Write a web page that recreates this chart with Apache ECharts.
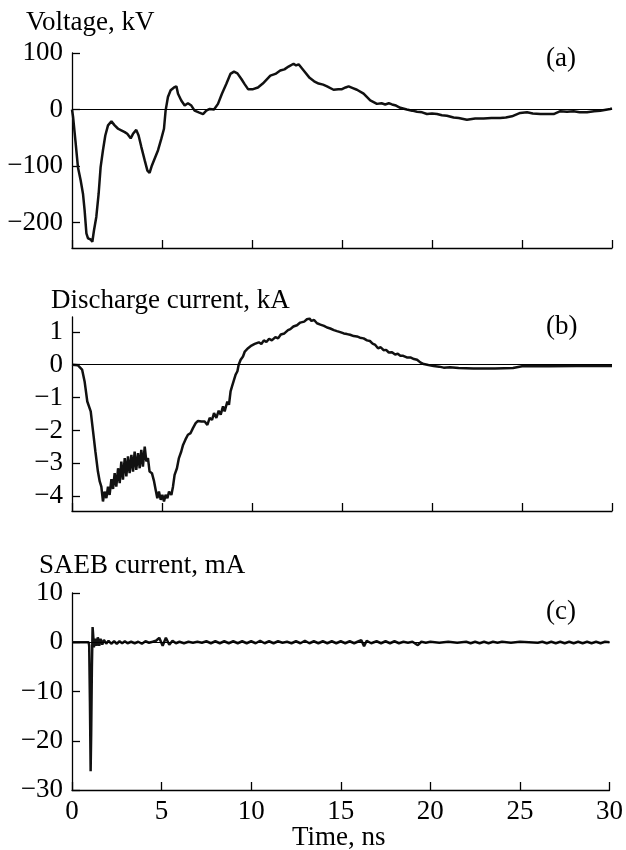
<!DOCTYPE html>
<html>
<head>
<meta charset="utf-8">
<script src="https://cdn.jsdelivr.net/npm/echarts@6/dist/echarts.min.js"></script>
<style>
  html, body { margin: 0; padding: 0; background: #fff; }
  #chart { width: 626px; height: 850px; }
</style>
</head>
<body>
<div id="chart"></div>
<script>
// (a) voltage, kV vs time, ns
var voltagePoints = [
  [0, 0], [0.06, -13], [0.19, -55], [0.33, -102], [0.48, -125], [0.61, -149], [0.70, -178],
  [0.80, -219], [0.89, -228], [1.04, -230], [1.13, -234], [1.22, -214], [1.35, -190],
  [1.48, -149], [1.59, -102], [1.72, -72], [1.85, -46], [2.0, -28], [2.19, -21], [2.37, -28],
  [2.56, -34], [2.74, -37], [2.93, -40], [3.07, -43], [3.26, -51], [3.39, -43], [3.57, -36],
  [3.70, -46], [3.85, -66], [4.04, -90], [4.19, -108], [4.31, -112], [4.44, -99], [4.59, -87],
  [4.78, -72], [4.96, -52], [5.11, -34], [5.20, -2], [5.33, 22], [5.48, 34], [5.67, 39],
  [5.80, 41], [5.89, 28], [6.07, 16], [6.26, 7], [6.44, 11], [6.63, 7], [6.81, -2], [7.04, -5],
  [7.28, -8], [7.46, -2], [7.65, 1], [7.89, 0], [8.11, 10], [8.33, 28], [8.57, 45], [8.80, 63],
  [9.0, 67], [9.19, 64], [9.41, 54], [9.59, 45], [9.78, 36], [10.06, 36], [10.33, 39],
  [10.6, 46], [11.02, 60], [11.3, 63], [11.57, 69], [11.8, 71], [12.03, 76], [12.31, 81],
  [12.45, 78], [12.59, 80], [12.87, 69], [13.2, 56], [13.45, 50], [13.70, 46], [13.95, 44],
  [14.17, 41], [14.53, 35], [14.8, 36], [15.0, 36], [15.2, 39], [15.37, 41], [15.6, 38],
  [15.83, 35], [16.2, 28], [16.57, 16], [16.94, 10], [17.2, 11], [17.4, 9], [17.6, 11],
  [17.78, 9], [18.0, 7], [18.24, 3], [18.6, 0], [18.9, -2], [19.17, -4], [19.45, -5],
  [19.72, -8], [20.0, -7], [20.28, -8], [20.55, -10], [20.83, -11], [21.2, -14], [21.48, -15],
  [21.94, -18], [22.4, -16], [22.87, -16], [23.3, -15], [23.79, -15], [24.1, -14], [24.44, -12],
  [24.9, -6], [25.28, -5], [25.6, -7], [26.02, -8], [26.4, -8], [26.76, -8], [27.13, -3],
  [27.5, -4], [27.87, -3], [28.2, -5], [28.61, -5], [29.0, -3], [29.35, -2], [29.9, 1], [30, 2]
];

// (b) discharge current, kA vs time, ns
var dischargePoints = [
  [0, 0], [0.33, -0.02], [0.56, -0.15], [0.70, -0.51], [0.85, -1.12], [1.04, -1.42],
  [1.17, -2.03], [1.30, -2.64], [1.44, -3.25], [1.54, -3.55], [1.63, -3.71], [1.72, -4.16],
  [1.81, -3.86], [1.91, -4.06], [2.0, -3.71], [2.09, -3.96], [2.19, -3.48], [2.28, -3.78],
  [2.37, -3.30], [2.46, -3.71], [2.56, -3.15], [2.65, -3.60], [2.74, -2.95], [2.83, -3.50],
  [2.93, -2.84], [3.02, -3.40], [3.11, -2.79], [3.20, -3.30], [3.30, -2.74], [3.39, -3.25],
  [3.48, -2.64], [3.57, -3.20], [3.67, -2.69], [3.76, -3.15], [3.85, -2.59], [3.94, -3.10],
  [4.04, -2.49], [4.13, -2.94], [4.22, -2.84], [4.31, -3.25], [4.44, -3.30], [4.56, -3.55],
  [4.65, -3.81], [4.74, -4.06], [4.83, -3.86], [4.93, -4.11], [5.02, -3.96], [5.11, -4.16],
  [5.20, -3.96], [5.30, -4.06], [5.39, -3.86], [5.52, -3.96], [5.61, -3.71], [5.70, -3.35],
  [5.83, -3.15], [5.94, -2.84], [6.07, -2.64], [6.17, -2.44], [6.30, -2.28], [6.44, -2.13],
  [6.59, -2.08], [6.72, -1.93], [6.87, -1.78], [7.0, -1.71], [7.19, -1.73], [7.37, -1.73],
  [7.52, -1.83], [7.65, -1.62], [7.78, -1.68], [7.89, -1.47], [8.02, -1.62], [8.15, -1.40],
  [8.26, -1.52], [8.39, -1.27], [8.48, -1.42], [8.63, -1.12], [8.72, -1.22], [8.81, -0.81],
  [8.89, -0.66], [8.98, -0.61], [9.09, -0.30], [9.19, -0.20], [9.26, 0], [9.37, 0.15],
  [9.5, 0.25], [9.6, 0.40], [9.69, 0.36], [9.78, 0.50], [9.87, 0.46], [9.97, 0.58],
  [10.06, 0.52], [10.15, 0.63], [10.24, 0.58], [10.38, 0.68], [10.52, 0.63], [10.66, 0.74],
  [10.80, 0.69], [10.95, 0.79], [11.1, 0.74], [11.3, 0.84], [11.45, 0.80], [11.6, 0.92],
  [11.8, 0.95], [12.0, 1.05], [12.13, 1.08], [12.3, 1.16], [12.5, 1.20], [12.68, 1.28],
  [12.9, 1.31], [13.05, 1.38], [13.2, 1.40], [13.3, 1.33], [13.45, 1.36], [13.61, 1.26],
  [13.8, 1.22], [14.0, 1.18], [14.17, 1.13], [14.35, 1.10], [14.55, 1.05], [14.72, 1.02],
  [14.9, 0.99], [15.1, 0.95], [15.28, 0.93], [15.45, 0.91], [15.65, 0.87], [15.83, 0.86],
  [16.0, 0.82], [16.2, 0.80], [16.39, 0.74], [16.55, 0.72], [16.7, 0.64], [16.85, 0.60],
  [17.0, 0.50], [17.15, 0.53], [17.31, 0.44], [17.45, 0.45], [17.6, 0.37], [17.78, 0.38],
  [17.95, 0.31], [18.1, 0.33], [18.24, 0.27], [18.4, 0.27], [18.6, 0.22], [18.8, 0.22],
  [19.0, 0.17], [19.17, 0.15], [19.35, 0.07], [19.54, 0.02], [19.8, -0.01], [20.09, -0.04],
  [20.4, -0.06], [20.65, -0.09], [21.0, -0.08], [21.48, -0.10], [22.3, -0.12], [23.5, -0.12],
  [24.5, -0.10], [25.0, -0.05], [26.5, -0.05], [28, -0.04], [30, -0.04]
];

// (c) SAEB current, mA vs time, ns
var saebPoints = [
  [0, 0], [0.93, 0], [0.96, -0.7], [1.0, -11.9], [1.04, -26.2], [1.07, -18.7], [1.11, -5.1],
  [1.15, 3.1], [1.19, 1.0], [1.22, -1.0], [1.30, 0.7], [1.37, -0.7], [1.44, 1.0], [1.52, -0.7],
  [1.59, 0.7], [1.69, -0.5], [1.78, 0.5], [1.91, -0.3], [2.04, 0.3], [2.19, -0.3], [2.35, 0.2],
  [2.5, -0.3], [2.65, 0.2], [2.8, -0.2], [2.95, 0.2], [3.1, -0.2], [3.3, 0.1], [3.5, -0.2],
  [3.7, 0.1], [3.9, -0.3], [4.1, 0.2], [4.3, -0.1], [4.5, 0.1], [4.69, 0.3], [4.87, 0.9],
  [5.06, -0.7], [5.24, 0.9], [5.43, -0.5], [5.61, 0.3], [5.8, -0.2], [6.0, 0.1], [6.25, -0.2],
  [6.5, 0.1], [6.75, -0.1], [7.0, 0.1], [7.25, -0.1], [7.5, 0.2], [7.75, -0.2], [8.0, 0.2],
  [8.25, -0.2], [8.5, 0.2], [8.75, -0.2], [9.0, 0.2], [9.25, -0.2], [9.5, 0.2], [9.75, -0.2],
  [10.0, 0.2], [10.25, -0.2], [10.5, 0.3], [10.75, -0.2], [11.0, 0.2], [11.25, -0.2],
  [11.5, 0.2], [11.75, -0.1], [12.0, 0.1], [12.25, -0.2], [12.5, 0.2], [12.75, -0.2],
  [13.0, 0.3], [13.25, -0.2], [13.5, 0.2], [13.75, -0.2], [14.0, 0.2], [14.25, -0.2],
  [14.5, 0.2], [14.75, -0.2], [15.0, 0.2], [15.25, -0.2], [15.5, 0.2], [15.75, -0.2],
  [16.0, 0.2], [16.15, 0.4], [16.3, -0.8], [16.45, 0.3], [16.7, -0.2], [17.0, 0.2],
  [17.25, -0.2], [17.5, 0.2], [17.75, -0.2], [18.0, 0.2], [18.25, -0.2], [18.5, 0.1],
  [18.75, -0.1], [19.0, 0.1], [19.3, -0.6], [19.5, 0.1], [19.75, -0.1], [20.0, 0.1],
  [20.5, -0.1], [21.0, 0.1], [21.5, -0.1], [22.0, 0.1], [22.25, -0.2], [22.5, 0.1],
  [22.75, -0.2], [23.0, 0.1], [23.25, -0.2], [23.5, 0.1], [23.75, -0.1], [24.0, 0.1],
  [24.5, -0.1], [25.0, 0.1], [25.5, 0], [26.0, -0.1], [26.25, 0.1], [26.5, -0.2],
  [26.75, 0.1], [27.0, -0.2], [27.25, 0.1], [27.5, -0.2], [27.75, 0.1], [28.0, -0.2],
  [28.25, 0.1], [28.5, -0.2], [28.75, 0.1], [29.0, -0.2], [29.25, 0.1], [29.5, -0.2],
  [29.75, 0.1], [30, 0]
];

var timeTicks = [0, 5, 10, 15, 20, 25, 30];
var voltageTicks = [-200, -100, 0, 100];
var dischargeTicks = [-4, -3, -2, -1, 0, 1];
var saebTicks = [-30, -20, -10, 0, 10];

var panelTitles = ["Voltage, kV", "Discharge current, kA", "SAEB current, mA"];
var panelTags = ["(a)", "(b)", "(c)"];

var fontFamily = "Liberation Serif";
var fontSize = 27;

var chart = echarts.init(document.getElementById("chart"));

function minusFmt(v) {
    return String(v).replace("-", "\u2212");
}

function yAxisFor(idx, min, max, ticks) {
    return {
        type: "value",
        gridIndex: idx,
        min: min,
        max: max,
        splitLine: { show: false },
        axisLine: { show: true, lineStyle: { color: "#000", width: 1.3 } },
        axisTick: { show: true, inside: true, length: 8, customValues: ticks, lineStyle: { color: "#000", width: 1.3 } },
        axisLabel: {
            show: true, customValues: ticks, margin: 9,
            color: "#000", fontFamily: fontFamily, fontSize: fontSize,
            formatter: minusFmt
        }
    };
}

function xAxisFor(idx, showLabels) {
    return {
        type: "value",
        gridIndex: idx,
        min: 0,
        max: 30,
        interval: 5,
        splitLine: { show: false },
        axisLine: { show: true, onZero: false, lineStyle: { color: "#000", width: 1.3 } },
        axisTick: { show: true, inside: true, length: 8, customValues: timeTicks, lineStyle: { color: "#000", width: 1.3 } },
        axisLabel: {
            show: showLabels, margin: 8,
            color: "#000", fontFamily: fontFamily, fontSize: fontSize
        }
    };
}

function lineSeries(idx, pts) {
    return {
        type: "line",
        xAxisIndex: idx,
        yAxisIndex: idx,
        data: pts,
        showSymbol: false,
        symbol: "none",
        animation: false,
        lineStyle: { color: "#111", width: 2.5 },
        markLine: {
            silent: true,
            symbol: "none",
            label: { show: false },
            lineStyle: { color: "#000", width: 1, type: "solid" },
            data: [{ yAxis: 0 }]
        }
    };
}

var textStyle = { fontFamily: fontFamily, fontSize: fontSize, fontWeight: "normal", color: "#000" };

function label(text, left, top) {
    return { text: text, left: left, top: top, padding: 0, textStyle: textStyle };
}

var option = {
    backgroundColor: "#fff",
    animation: false,
    title: [
        label(panelTitles[0], 26, 9),
        label(panelTitles[1], 51, 287),
        label(panelTitles[2], 39, 552),
        label(panelTags[0], 546, 45),
        label(panelTags[1], 546, 313),
        label(panelTags[2], 546, 598),
        label("Time, ns", 292, 824)
    ],
    grid: [
        { left: 72, right: 14, top: 53, height: 195 },
        { left: 72, right: 14, top: 317, height: 194 },
        { left: 72, right: 14, top: 593, height: 197 }
    ],
    xAxis: [xAxisFor(0, false), xAxisFor(1, false), xAxisFor(2, true)],
    yAxis: [
        yAxisFor(0, -245, 100, voltageTicks),
        yAxisFor(1, -4.45, 1.45, dischargeTicks),
        yAxisFor(2, -30, 10, saebTicks)
    ],
    series: [
        lineSeries(0, voltagePoints),
        lineSeries(1, dischargePoints),
        lineSeries(2, saebPoints)
    ]
};

chart.setOption(option);
</script>
</body>
</html>
